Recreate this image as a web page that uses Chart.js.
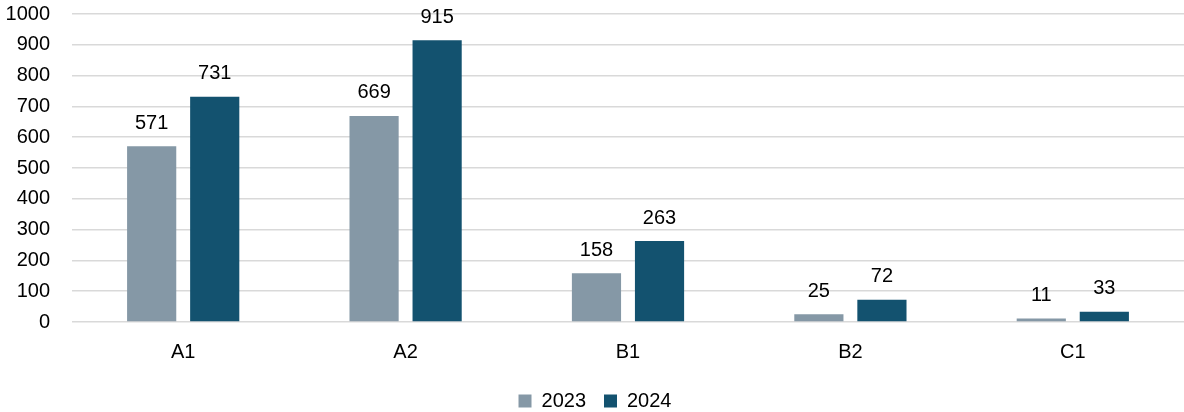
<!DOCTYPE html>
<html>
<head>
<meta charset="utf-8">
<script src="https://cdn.jsdelivr.net/npm/chart.js@4"></script>
<style>
  html, body { margin: 0; padding: 0; background: #fff; }
  #wrap { width: 1184px; height: 412px; }
</style>
</head>
<body>
<div id="wrap"><canvas id="barChart"></canvas></div>
<script>
var levels = ["A1", "A2", "B1", "B2", "C1"];
var values2023 = [571, 669, 158, 25, 11];
var values2024 = [731, 915, 263, 72, 33];
var yTicks = [0, 100, 200, 300, 400, 500, 600, 700, 800, 900, 1000];

Chart.defaults.font.family = "'Liberation Sans', Arial, sans-serif";
Chart.defaults.font.size = 20;
Chart.defaults.color = '#000';

// value labels above each bar
var barLabels = {
    id: 'barLabels',
    afterDatasetsDraw: function (chart) {
        var ctx = chart.ctx;
        ctx.save();
        ctx.font = "20px 'Liberation Sans', Arial, sans-serif";
        ctx.fillStyle = '#000';
        ctx.textAlign = 'center';
        ctx.textBaseline = 'bottom';
        chart.data.datasets.forEach(function (ds, i) {
            chart.getDatasetMeta(i).data.forEach(function (bar, j) {
                ctx.fillText(ds.data[j], bar.x, bar.y - 13);
            });
        });
        ctx.restore();
    }
};

var myBarChart = new Chart('barChart', {
    type: 'bar',
    data: {
        labels: levels,
        datasets: [{
            label: "2023",
            data: values2023,
            backgroundColor: '#8598a6',
            categoryPercentage: 0.567,
            barPercentage: 0.78
        },
        {
            label: "2024",
            data: values2024,
            backgroundColor: '#13526f',
            categoryPercentage: 0.567,
            barPercentage: 0.78
        }]
    },
    options: {
        responsive: true,
        maintainAspectRatio: false,
        animation: false,
        layout: {
            padding: { top: 14, left: 6, right: 0, bottom: -9 }
        },
        scales: {
            x: {
                grid: { display: false },
                border: { display: false },
                ticks: { padding: 10 },
                afterFit: function (axis) {
                    axis.paddingLeft = 0;
                    axis.paddingRight = 0;
                    axis.height = 51;
                }
            },
            y: {
                min: 0,
                max: 1000,
                afterBuildTicks: function (axis) {
                    axis.ticks = yTicks.map(function (v) { return { value: v }; });
                },
                afterFit: function (axis) {
                    axis.width = 66;
                    axis.paddingTop = 0;
                    axis.paddingBottom = 0;
                },
                grid: { color: '#d9d9d9', lineWidth: 1.5, drawTicks: false },
                border: { display: false },
                ticks: {
                    padding: 22,
                    callback: function (v) { return String(v); }
                }
            }
        },
        plugins: {
            legend: {
                position: 'bottom',
                labels: {
                    boxWidth: 13,
                    boxHeight: 13,
                    padding: 18
                }
            },
            tooltip: { enabled: false }
        }
    },
    plugins: [barLabels]
});
</script>
</body>
</html>
